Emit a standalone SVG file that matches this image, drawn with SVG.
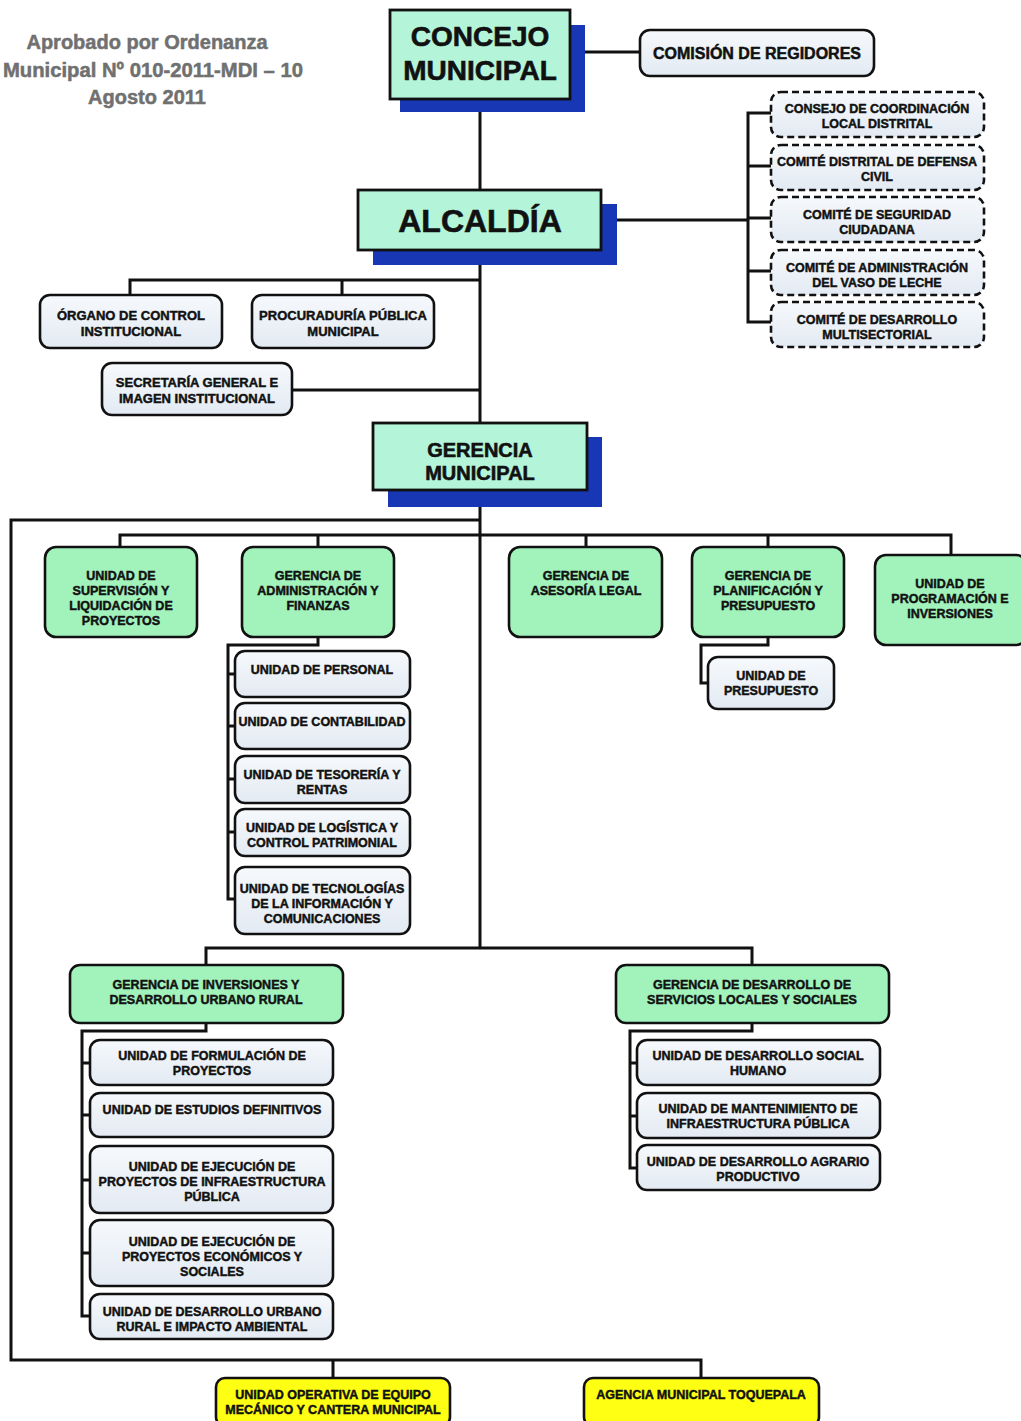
<svg xmlns="http://www.w3.org/2000/svg" width="1021" height="1421" viewBox="0 0 1021 1421">
<defs>
<linearGradient id="lg" x1="0" y1="0" x2="0" y2="1"><stop offset="0" stop-color="#f6f9fc"/><stop offset="1" stop-color="#e3eaf3"/></linearGradient>
<style>
text{font-family:"Liberation Sans",Arial,sans-serif;font-weight:bold;text-anchor:middle;fill:#111}
.t{font-size:12.5px;stroke:#111;stroke-width:0.45}
.t13{font-size:13px;stroke:#111;stroke-width:0.45}
.box{fill:url(#lg);stroke:#111;stroke-width:2.6}
.dash{fill:url(#lg);stroke:#111;stroke-width:2.6;stroke-dasharray:7 4}
.green{fill:#a2f2bc;stroke:#111;stroke-width:2.6}
.mint{fill:#b4f5d9;stroke:#111;stroke-width:2.8}
.shadow{fill:#1737b5}
.yellow{fill:#ffff14;stroke:#111;stroke-width:2.6}
.conn{fill:none;stroke:#111;stroke-width:3}
.note{font-size:20px;fill:#707070;stroke:#707070;stroke-width:0.5}
.big{stroke:#111;stroke-width:0.6}
</style>
</defs>
<rect width="1021" height="1421" fill="#ffffff"/>

<g id="note">
<text class="note" x="147" y="49">Aprobado por Ordenanza</text>
<text class="note" x="153" y="77" textLength="300" lengthAdjust="spacingAndGlyphs">Municipal Nº 010-2011-MDI – 10</text>
<text class="note" x="147" y="104">Agosto 2011</text>
</g>

<g id="connectors" class="conn">
<path d="M480,98 V190"/>
<path d="M570,52 H640"/>
<path d="M601,220 H748"/>
<path d="M771,113 H748 V322 H771 M748,166 H771 M748,218 H771 M748,271 H771"/>
<path d="M480,250 V423"/>
<path d="M130,295 V280 H480 M342,280 V295"/>
<path d="M292,390 H480"/>
<path d="M480,490 V948"/>
<path d="M480,520 H11 V1360 H701 V1378 M333,1360 V1378"/>
<path d="M120,547 V535 H951 V555 M318,535 V547 M586,535 V547 M768,535 V547"/>
<path d="M318,637 V645 H228 V899 H235 M228,674 H235 M228,726 H235 M228,779 H235 M228,832 H235"/>
<path d="M768,637 V645 H701 V683 H708"/>
<path d="M206,965 V948 H752 V965"/>
<path d="M206,1023 V1031 H82 V1316 H90 M82,1063 H90 M82,1115 H90 M82,1180 H90 M82,1253 H90"/>
<path d="M752,1023 V1031 H630 V1168 H637 M630,1063 H637 M630,1116 H637"/>
</g>

<g id="concejo">
<rect class="shadow" x="400" y="25" width="185" height="87"/>
<rect class="mint" x="390" y="10" width="180" height="89" stroke-width="4"/>
<text class="big" x="480" y="46" font-size="28">CONCEJO</text>
<text class="big" x="480" y="80" font-size="28">MUNICIPAL</text>
</g>

<g id="comision">
<rect class="box" x="640" y="30" width="234" height="46" rx="10"/>
<text x="757" y="59" font-size="16" stroke="#111" stroke-width="0.5">COMISIÓN DE REGIDORES</text>
</g>

<g id="alcaldia">
<rect class="shadow" x="373" y="204" width="244" height="61"/>
<rect class="mint" x="358" y="190" width="243" height="60"/>
<text class="big" x="480" y="232" font-size="32">ALCALDÍA</text>
</g>

<g id="consejo-coordinacion">
<rect class="dash" x="771" y="92" width="213" height="45" rx="10"/>
<text class="t" x="877" y="113">CONSEJO DE COORDINACIÓN</text>
<text class="t" x="877" y="128">LOCAL DISTRITAL</text>
</g>
<g id="defensa-civil">
<rect class="dash" x="771" y="145" width="213" height="45" rx="10"/>
<text class="t" x="877" y="166">COMITÉ DISTRITAL DE DEFENSA</text>
<text class="t" x="877" y="181">CIVIL</text>
</g>
<g id="seguridad">
<rect class="dash" x="771" y="197" width="213" height="45" rx="10"/>
<text class="t" x="877" y="219">COMITÉ DE SEGURIDAD</text>
<text class="t" x="877" y="234">CIUDADANA</text>
</g>
<g id="vaso-leche">
<rect class="dash" x="771" y="250" width="213" height="45" rx="10"/>
<text class="t" x="877" y="272">COMITÉ DE ADMINISTRACIÓN</text>
<text class="t" x="877" y="287">DEL VASO DE LECHE</text>
</g>
<g id="multisectorial">
<rect class="dash" x="771" y="302" width="213" height="45" rx="10"/>
<text class="t" x="877" y="324">COMITÉ DE DESARROLLO</text>
<text class="t" x="877" y="339">MULTISECTORIAL</text>
</g>

<g id="organo-control">
<rect class="box" x="40" y="295" width="182" height="53" rx="10"/>
<text class="t13" x="131" y="320">ÓRGANO DE CONTROL</text>
<text class="t13" x="131" y="336">INSTITUCIONAL</text>
</g>
<g id="procuraduria">
<rect class="box" x="252" y="295" width="182" height="53" rx="10"/>
<text class="t13" x="343" y="320">PROCURADURÍA PÚBLICA</text>
<text class="t13" x="343" y="336">MUNICIPAL</text>
</g>
<g id="secretaria">
<rect class="box" x="102" y="363" width="190" height="52" rx="10"/>
<text class="t13" x="197" y="387">SECRETARÍA GENERAL E</text>
<text class="t13" x="197" y="403">IMAGEN INSTITUCIONAL</text>
</g>

<g id="gerencia-municipal">
<rect class="shadow" x="388" y="437" width="214" height="70"/>
<rect class="mint" x="373" y="423" width="214" height="67"/>
<text class="big" x="480" y="457" font-size="20">GERENCIA</text>
<text class="big" x="480" y="480" font-size="20">MUNICIPAL</text>
</g>

<g id="supervision">
<rect class="green" x="45" y="547" width="152" height="90" rx="11"/>
<text class="t" x="121" y="580">UNIDAD DE</text>
<text class="t" x="121" y="595">SUPERVISIÓN Y</text>
<text class="t" x="121" y="610">LIQUIDACIÓN DE</text>
<text class="t" x="121" y="625">PROYECTOS</text>
</g>
<g id="administracion">
<rect class="green" x="242" y="547" width="152" height="90" rx="11"/>
<text class="t" x="318" y="580">GERENCIA DE</text>
<text class="t" x="318" y="595">ADMINISTRACIÓN Y</text>
<text class="t" x="318" y="610">FINANZAS</text>
</g>
<g id="asesoria">
<rect class="green" x="509" y="547" width="153" height="90" rx="11"/>
<text class="t" x="586" y="580">GERENCIA DE</text>
<text class="t" x="586" y="595">ASESORÍA LEGAL</text>
</g>
<g id="planificacion">
<rect class="green" x="692" y="547" width="152" height="90" rx="11"/>
<text class="t" x="768" y="580">GERENCIA DE</text>
<text class="t" x="768" y="595">PLANIFICACIÓN Y</text>
<text class="t" x="768" y="610">PRESUPUESTO</text>
</g>
<g id="programacion">
<rect class="green" x="875" y="555" width="152" height="90" rx="11"/>
<text class="t" x="950" y="588">UNIDAD DE</text>
<text class="t" x="950" y="603">PROGRAMACIÓN E</text>
<text class="t" x="950" y="618">INVERSIONES</text>
</g>
<g id="presupuesto">
<rect class="box" x="708" y="657" width="126" height="52" rx="10"/>
<text class="t" x="771" y="680">UNIDAD DE</text>
<text class="t" x="771" y="695">PRESUPUESTO</text>
</g>

<g id="personal">
<rect class="box" x="235" y="651" width="175" height="46" rx="10"/>
<text class="t" x="322" y="674">UNIDAD DE PERSONAL</text>
</g>
<g id="contabilidad">
<rect class="box" x="235" y="703" width="175" height="46" rx="10"/>
<text class="t" x="322" y="726">UNIDAD DE CONTABILIDAD</text>
</g>
<g id="tesoreria">
<rect class="box" x="235" y="756" width="175" height="47" rx="10"/>
<text class="t" x="322" y="779">UNIDAD DE TESORERÍA Y</text>
<text class="t" x="322" y="794">RENTAS</text>
</g>
<g id="logistica">
<rect class="box" x="235" y="809" width="175" height="47" rx="10"/>
<text class="t" x="322" y="832">UNIDAD DE LOGÍSTICA Y</text>
<text class="t" x="322" y="847">CONTROL PATRIMONIAL</text>
</g>
<g id="tecnologias">
<rect class="box" x="235" y="867" width="175" height="67" rx="10"/>
<text class="t" x="322" y="893">UNIDAD DE TECNOLOGÍAS</text>
<text class="t" x="322" y="908">DE LA INFORMACIÓN Y</text>
<text class="t" x="322" y="923">COMUNICACIONES</text>
</g>

<g id="inversiones">
<rect class="green" x="70" y="965" width="273" height="58" rx="10"/>
<text class="t" x="206" y="989">GERENCIA DE INVERSIONES Y</text>
<text class="t" x="206" y="1004">DESARROLLO URBANO RURAL</text>
</g>
<g id="servicios">
<rect class="green" x="616" y="965" width="273" height="58" rx="10"/>
<text class="t" x="752" y="989">GERENCIA DE DESARROLLO DE</text>
<text class="t" x="752" y="1004">SERVICIOS LOCALES Y SOCIALES</text>
</g>

<g id="formulacion">
<rect class="box" x="90" y="1040" width="243" height="45" rx="10"/>
<text class="t" x="212" y="1060">UNIDAD DE FORMULACIÓN DE</text>
<text class="t" x="212" y="1075">PROYECTOS</text>
</g>
<g id="estudios">
<rect class="box" x="90" y="1093" width="243" height="44" rx="10"/>
<text class="t" x="212" y="1114">UNIDAD DE ESTUDIOS DEFINITIVOS</text>
</g>
<g id="ejecucion-infra">
<rect class="box" x="90" y="1146" width="243" height="67" rx="10"/>
<text class="t" x="212" y="1171">UNIDAD DE EJECUCIÓN DE</text>
<text class="t" x="212" y="1186">PROYECTOS DE INFRAESTRUCTURA</text>
<text class="t" x="212" y="1201">PÚBLICA</text>
</g>
<g id="ejecucion-econ">
<rect class="box" x="90" y="1220" width="243" height="66" rx="10"/>
<text class="t" x="212" y="1246">UNIDAD DE EJECUCIÓN DE</text>
<text class="t" x="212" y="1261">PROYECTOS ECONÓMICOS Y</text>
<text class="t" x="212" y="1276">SOCIALES</text>
</g>
<g id="desarrollo-urbano">
<rect class="box" x="90" y="1294" width="243" height="45" rx="10"/>
<text class="t" x="212" y="1316">UNIDAD DE DESARROLLO URBANO</text>
<text class="t" x="212" y="1331">RURAL E IMPACTO AMBIENTAL</text>
</g>

<g id="social-humano">
<rect class="box" x="637" y="1040" width="243" height="45" rx="10"/>
<text class="t" x="758" y="1060">UNIDAD DE DESARROLLO SOCIAL</text>
<text class="t" x="758" y="1075">HUMANO</text>
</g>
<g id="mantenimiento">
<rect class="box" x="637" y="1093" width="243" height="45" rx="10"/>
<text class="t" x="758" y="1113">UNIDAD DE MANTENIMIENTO DE</text>
<text class="t" x="758" y="1128">INFRAESTRUCTURA PÚBLICA</text>
</g>
<g id="agrario">
<rect class="box" x="637" y="1145" width="243" height="45" rx="10"/>
<text class="t" x="758" y="1166">UNIDAD DE DESARROLLO AGRARIO</text>
<text class="t" x="758" y="1181">PRODUCTIVO</text>
</g>

<g id="operativa">
<rect class="yellow" x="216" y="1378" width="234" height="48" rx="9"/>
<text class="t" x="333" y="1399" font-size="12">UNIDAD OPERATIVA DE EQUIPO</text>
<text class="t" x="333" y="1414" font-size="12">MECÁNICO Y CANTERA MUNICIPAL</text>
</g>
<g id="toquepala">
<rect class="yellow" x="584" y="1378" width="235" height="48" rx="9"/>
<text class="t" x="701" y="1399">AGENCIA MUNICIPAL TOQUEPALA</text>
</g>
</svg>
